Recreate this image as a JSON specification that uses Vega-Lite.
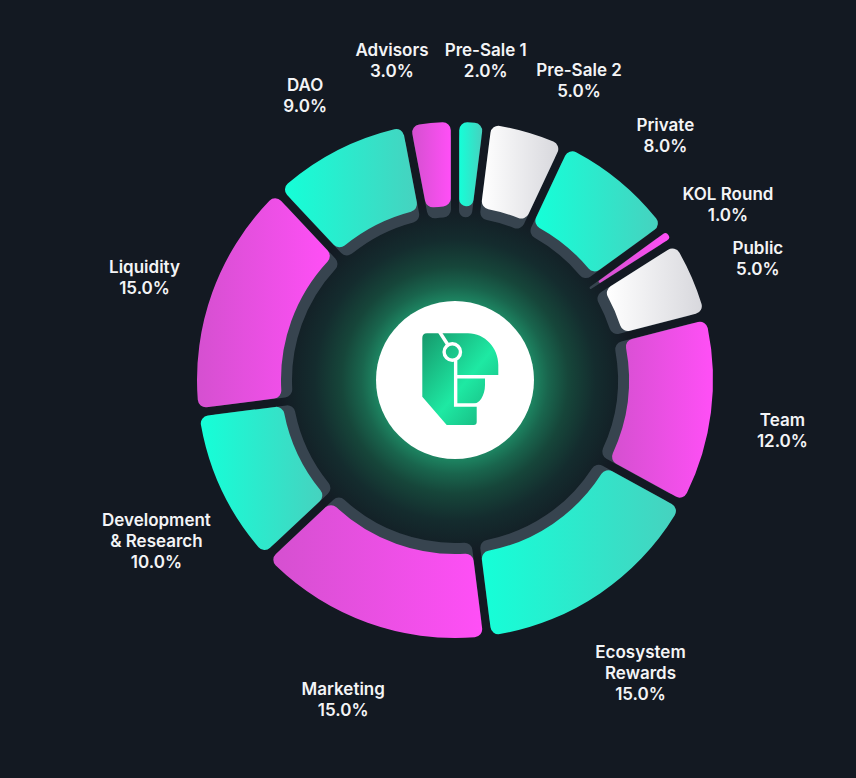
{
  "$schema": "https://vega.github.io/schema/vega-lite/v6.json",
  "width": 802,
  "height": 760,
  "autosize": {"type": "none"},
  "padding": {"left": 54, "top": 0, "right": 0, "bottom": 18},
  "background": "#131922",
  "config": {"view": {"stroke": null}},
  "data": {
    "values": [
      {"idx": 1, "name": "Pre-Sale 1", "lines": ["Pre-Sale 1", "2.0%"], "pct": 2, "tone": "teal"},
      {"idx": 2, "name": "Pre-Sale 2", "lines": ["Pre-Sale 2", "5.0%"], "pct": 5, "tone": "silver"},
      {"idx": 3, "name": "Private", "lines": ["Private", "8.0%"], "pct": 8, "tone": "teal"},
      {"idx": 4, "name": "KOL Round", "lines": ["KOL Round", "1.0%"], "pct": 1, "tone": "magenta"},
      {"idx": 5, "name": "Public", "lines": ["Public", "5.0%"], "pct": 5, "tone": "silver"},
      {"idx": 6, "name": "Team", "lines": ["Team", "12.0%"], "pct": 12, "tone": "magenta"},
      {"idx": 7, "name": "Ecosystem Rewards", "lines": ["Ecosystem", "Rewards", "15.0%"], "pct": 15, "tone": "teal"},
      {"idx": 8, "name": "Marketing", "lines": ["Marketing", "15.0%"], "pct": 15, "tone": "magenta"},
      {"idx": 9, "name": "Development & Research", "lines": ["Development", "& Research", "10.0%"], "pct": 10, "tone": "teal"},
      {"idx": 10, "name": "Liquidity", "lines": ["Liquidity", "15.0%"], "pct": 15, "tone": "magenta"},
      {"idx": 11, "name": "DAO", "lines": ["DAO", "9.0%"], "pct": 9, "tone": "teal"},
      {"idx": 12, "name": "Advisors", "lines": ["Advisors", "3.0%"], "pct": 3, "tone": "magenta"}
    ]
  },
  "transform": [
    {"stack": "pct", "groupby": [], "sort": [{"field": "idx", "order": "ascending"}], "as": ["start", "end"]}
  ],
  "layer": [
    {
      "data": {"values": [{"k": "glow"}]},
      "mark": {
        "type": "arc", "theta": 0, "theta2": 6.2832, "radius": 180,
        "fill": {"gradient": "radial", "x1": 0.5, "y1": 0.5, "r1": 0, "x2": 0.5, "y2": 0.5, "r2": 0.5,
          "stops": [
            {"offset": 0, "color": "#22c98e"},
            {"offset": 0.44, "color": "#1d8461"},
            {"offset": 0.52, "color": "#19654d"},
            {"offset": 0.63, "color": "#16463a"},
            {"offset": 0.78, "color": "#142c2e"},
            {"offset": 1, "color": "#131922"}
          ]}
      },
      "encoding": {}
    },
    {
      "mark": {"type": "arc", "radius": 250, "radius2": 163, "padAngle": 0.027, "cornerRadius": 8, "fill": "#37444f"},
      "encoding": {
        "theta": {"field": "start", "type": "quantitative", "scale": {"domain": [0, 100]}},
        "theta2": {"field": "end"}
      }
    },
    {
      "transform": [{"filter": "datum.tone === 'teal'"}],
      "mark": {"type": "arc", "radius": 258, "radius2": 174, "padAngle": 0.027, "cornerRadius": 8,
        "fill": {"gradient": "linear", "x1": 0, "y1": 0, "x2": 1, "y2": 0,
          "stops": [{"offset": 0, "color": "#15ffd8"}, {"offset": 1, "color": "#46d2bf"}]}},
      "encoding": {
        "theta": {"field": "start", "type": "quantitative", "scale": {"domain": [0, 100]}},
        "theta2": {"field": "end"}
      }
    },
    {
      "transform": [{"filter": "datum.tone === 'magenta'"}],
      "mark": {"type": "arc", "radius": 258, "radius2": 174, "padAngle": 0.027, "cornerRadius": 8,
        "fill": {"gradient": "linear", "x1": 0, "y1": 0, "x2": 1, "y2": 0,
          "stops": [{"offset": 0, "color": "#d550d0"}, {"offset": 1, "color": "#ff4ff6"}]}},
      "encoding": {
        "theta": {"field": "start", "type": "quantitative", "scale": {"domain": [0, 100]}},
        "theta2": {"field": "end"}
      }
    },
    {
      "transform": [{"filter": "datum.tone === 'silver'"}],
      "mark": {"type": "arc", "radius": 258, "radius2": 174, "padAngle": 0.027, "cornerRadius": 8,
        "fill": {"gradient": "linear", "x1": 0, "y1": 0, "x2": 1, "y2": 0,
          "stops": [{"offset": 0, "color": "#ffffff"}, {"offset": 1, "color": "#d8d8dd"}]}},
      "encoding": {
        "theta": {"field": "start", "type": "quantitative", "scale": {"domain": [0, 100]}},
        "theta2": {"field": "end"}
      }
    },
    {
      "data": {"values": [{"k": "disc"}]},
      "mark": {"type": "arc", "theta": 0, "theta2": 6.2832, "radius": 79, "fill": "#ffffff"},
      "encoding": {}
    },
    {
      "data": {"values": [{"k": "logo"}]},
      "mark": {
        "type": "point", "filled": true, "opacity": 1, "size": 10000, "strokeWidth": 0,
        "shape": "M -0.654 -0.84 Q -0.654 -0.934 -0.56 -0.934 L 0.26 -0.934 C 0.6 -0.934 0.866 -0.64 0.866 -0.3 L 0.866 -0.1 L 0.6 -0.1 L 0.6 0.1 C 0.6 0.32 0.48 0.48 0.36 0.48 L 0.434 0.48 L 0.434 0.84 Q 0.434 0.9 0.374 0.9 L -0.166 0.9 L -0.654 0.334 Z",
        "fill": {"gradient": "linear", "x1": 0, "y1": 0, "x2": 1, "y2": 1,
          "stops": [{"offset": 0, "color": "#16986b"}, {"offset": 0.55, "color": "#1ee9a3"}, {"offset": 1, "color": "#17ad79"}]}
      },
      "encoding": {}
    },
    {
      "data": {"values": [{"k": "logo-lines"}]},
      "mark": {
        "type": "point", "filled": false, "opacity": 1, "size": 10000, "stroke": "#ffffff", "strokeWidth": 3.4, "strokeCap": "butt",
        "shape": "M -0.32 -0.98 L -0.14 -0.7 M 0.013 -0.4 L 0.013 0.5 L 0.47 0.5 M 0.013 -0.066 L 0.9 -0.066 M 0.11 -0.56 A 0.164 0.164 0 1 1 -0.218 -0.56 A 0.164 0.164 0 1 1 0.11 -0.56"
      },
      "encoding": {}
    },
    {
      "mark": {"type": "text", "radius": 330, "font": "Inter", "fontSize": 17, "fontWeight": 600, "fill": "#f3f4f6", "lineHeight": 21, "align": "center", "baseline": "middle"},
      "encoding": {
        "theta": {"field": "pct", "type": "quantitative", "stack": true, "scale": {"domain": [0, 100]}},
        "order": {"field": "idx"},
        "text": {"field": "lines", "type": "nominal", "condition": {"test": "indexof(['Advisors','Pre-Sale 1','Pre-Sale 2'], datum.name) >= 0", "value": ""}}
      }
    },
    {
      "mark": {"type": "text", "radius": 330, "dx": -32, "font": "Inter", "fontSize": 17, "fontWeight": 600, "fill": "#f3f4f6", "lineHeight": 21, "align": "center", "baseline": "middle"},
      "encoding": {
        "theta": {"field": "pct", "type": "quantitative", "stack": true, "scale": {"domain": [0, 100]}},
        "order": {"field": "idx"},
        "text": {"condition": {"test": "datum.name === 'Advisors'", "field": "lines", "type": "nominal"}, "value": ""}
      }
    },
    {
      "mark": {"type": "text", "radius": 330, "dx": 10, "font": "Inter", "fontSize": 17, "fontWeight": 600, "fill": "#f3f4f6", "lineHeight": 21, "align": "center", "baseline": "middle"},
      "encoding": {
        "theta": {"field": "pct", "type": "quantitative", "stack": true, "scale": {"domain": [0, 100]}},
        "order": {"field": "idx"},
        "text": {"condition": {"test": "datum.name === 'Pre-Sale 1'", "field": "lines", "type": "nominal"}, "value": ""}
      }
    },
    {
      "mark": {"type": "text", "radius": 330, "dx": 32, "dy": 8, "font": "Inter", "fontSize": 17, "fontWeight": 600, "fill": "#f3f4f6", "lineHeight": 21, "align": "center", "baseline": "middle"},
      "encoding": {
        "theta": {"field": "pct", "type": "quantitative", "stack": true, "scale": {"domain": [0, 100]}},
        "order": {"field": "idx"},
        "text": {"condition": {"test": "datum.name === 'Pre-Sale 2'", "field": "lines", "type": "nominal"}, "value": ""}
      }
    }
  ]
}
